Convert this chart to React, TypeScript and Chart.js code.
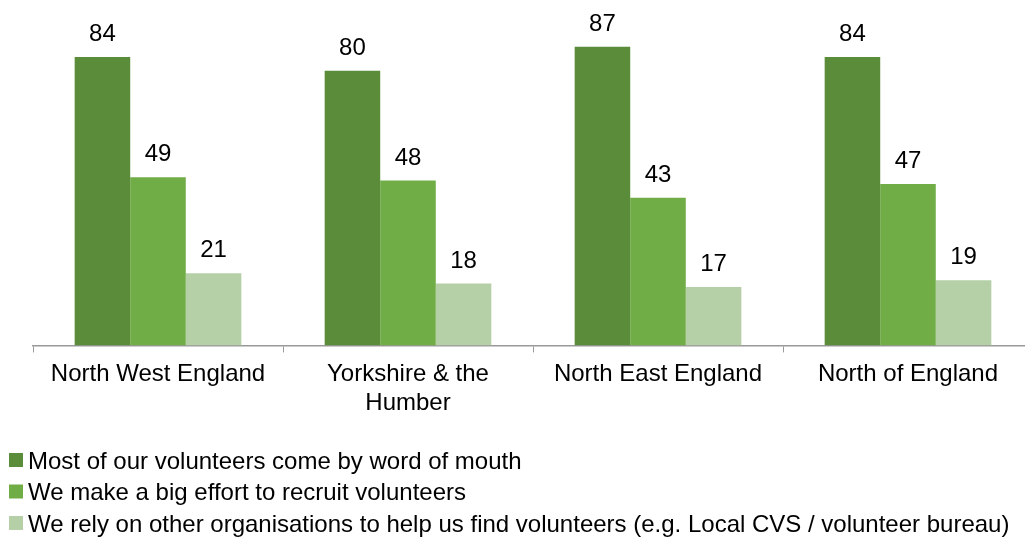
import React, { useEffect, useRef } from "react";
import { Chart, registerables } from "chart.js";

Chart.register(...registerables);

const categories: (string | string[])[] = [
  "North West England",
  ["Yorkshire & the", "Humber"],
  "North East England",
  "North of England",
];
const wordOfMouth = [84, 80, 87, 84];
const bigEffort = [49, 48, 43, 47];
const otherOrgs = [21, 18, 17, 19];
const seriesLabels = [
  "Most of our volunteers come by word of mouth",
  "We make a big effort to recruit volunteers",
  "We rely on other organisations to help us find volunteers (e.g. Local CVS / volunteer bureau)",
];
const seriesColors = ["#5b8c3a", "#70ad47", "#b5cfa7"];

const FONT = "'Liberation Sans', Arial, sans-serif";

const valueLabels = {
  id: "valueLabels",
  afterDatasetsDraw(chart: any) {
    const ctx = chart.ctx;
    ctx.save();
    ctx.font = `24px ${FONT}`;
    ctx.fillStyle = "#000";
    ctx.textAlign = "center";
    ctx.textBaseline = "alphabetic";
    chart.data.datasets.forEach((ds: any, i: number) => {
      const meta = chart.getDatasetMeta(i);
      meta.data.forEach((el: any, j: number) => {
        ctx.fillText(String(ds.data[j]), el.x, el.y - 16);
      });
    });
    ctx.restore();
  },
};

const stackedLegend = {
  id: "stackedLegend",
  afterDraw(chart: any) {
    const ctx = chart.ctx;
    ctx.save();
    ctx.font = `24px ${FONT}`;
    ctx.textAlign = "left";
    ctx.textBaseline = "alphabetic";
    chart.data.datasets.forEach((ds: any, i: number) => {
      const cy = 460 + i * 31.5;
      ctx.fillStyle = ds.backgroundColor;
      ctx.fillRect(9, cy - 7, 14, 14);
      ctx.fillStyle = "#000";
      ctx.fillText(ds.label, 28, cy + 8.5);
    });
    ctx.restore();
  },
};

export default function App() {
  const canvasRef = useRef<HTMLCanvasElement>(null);

  useEffect(() => {
    document.body.style.margin = "0";
    const canvas = canvasRef.current!;
    const chart = new Chart(canvas, {
      type: "bar",
      data: {
        labels: categories,
        datasets: [
          { label: seriesLabels[0], data: wordOfMouth, backgroundColor: seriesColors[0] },
          { label: seriesLabels[1], data: bigEffort, backgroundColor: seriesColors[1] },
          { label: seriesLabels[2], data: otherOrgs, backgroundColor: seriesColors[2] },
        ],
      },
      options: {
        responsive: false,
        animation: false,
        devicePixelRatio: 1,
        layout: { padding: { left: 33, right: 7, top: 2, bottom: 115 } },
        datasets: {
          bar: { categoryPercentage: 2 / 3, barPercentage: 1, borderWidth: 0 },
        },
        plugins: {
          legend: { display: false },
          tooltip: { enabled: false },
        },
        scales: {
          x: {
            grid: {
              display: true,
              drawOnChartArea: false,
              drawTicks: true,
              tickLength: 7,
              color: "#999",
              offset: true,
            },
            border: { display: true, color: "#999", width: 1.5 },
            ticks: {
              color: "#000",
              padding: 8,
              maxRotation: 0,
              autoSkip: false,
              font: { family: FONT, size: 24, lineHeight: 1.2 },
            },
          },
          y: {
            display: false,
            min: 0,
            max: 100,
          },
        },
      },
      plugins: [valueLabels, stackedLegend],
    });
    return () => chart.destroy();
  }, []);

  return (
    <div style={{ width: 1025, height: 541, overflow: "hidden", position: "relative", background: "#fff" }}>
      <canvas ref={canvasRef} width={1040} height={541} style={{ display: "block" }} />
    </div>
  );
}
